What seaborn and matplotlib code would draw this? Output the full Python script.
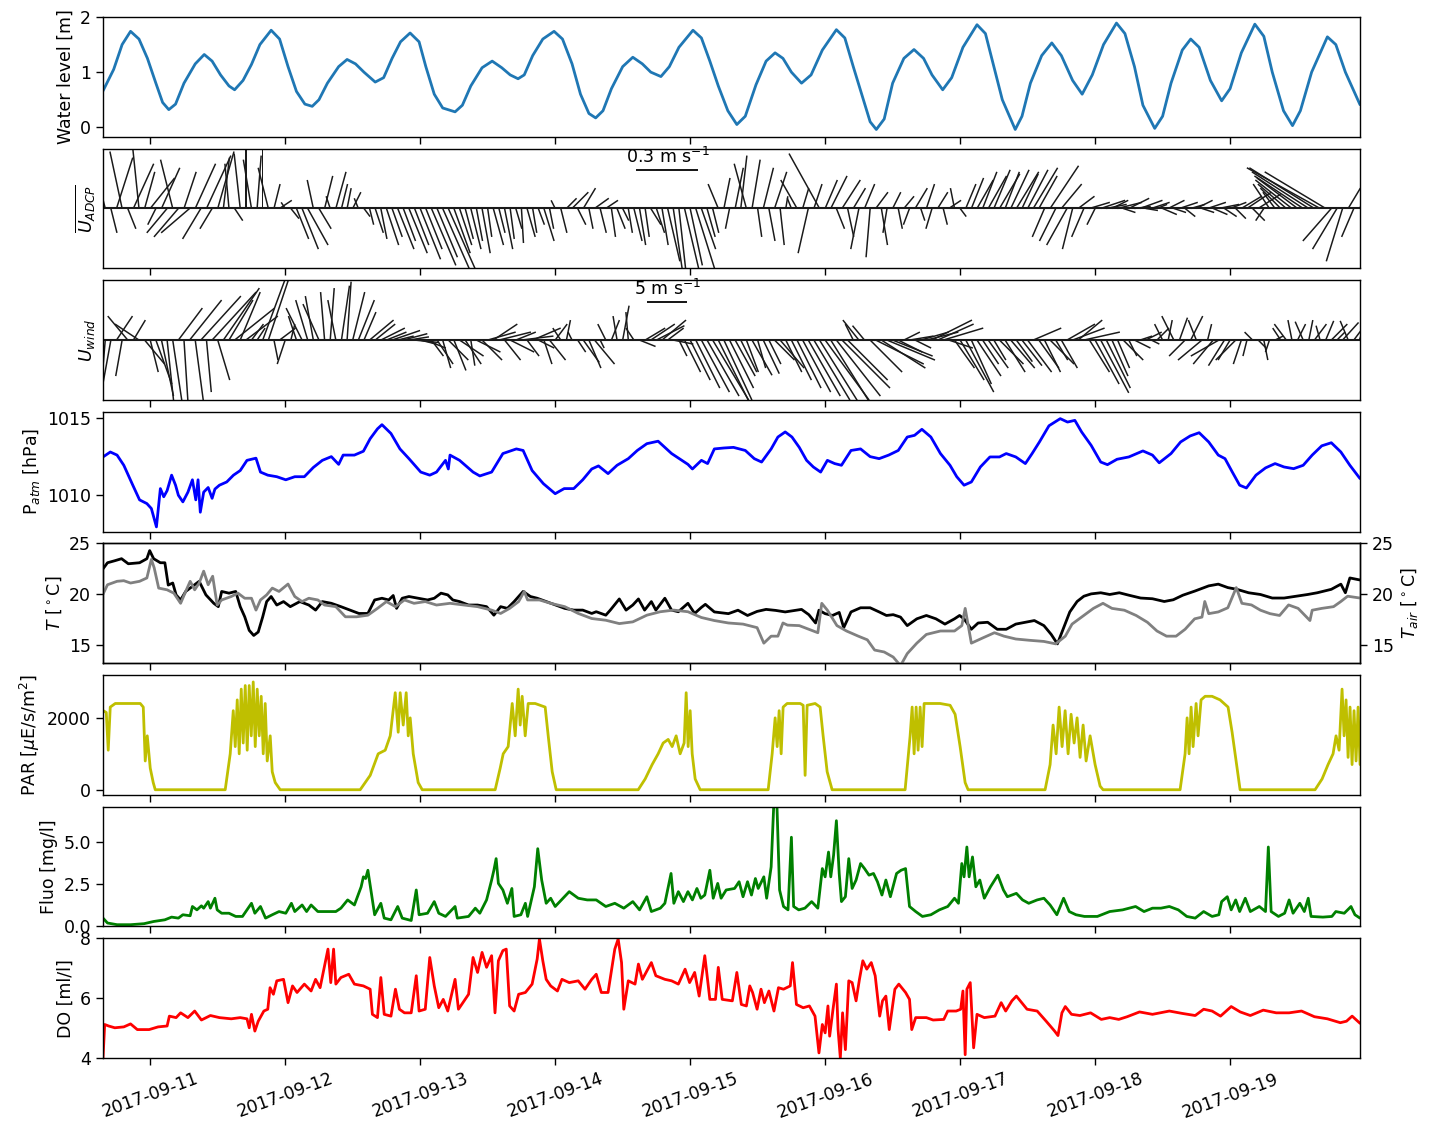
import numpy as np
import pandas as pd
import matplotlib
matplotlib.use("Agg")
import matplotlib.pyplot as plt
import matplotlib.dates as mdates
import seaborn as sns
from datetime import datetime

# ---------------------------------------------------------------------------
# Time base: all sample times are hours counted from 2017-09-10 00:00
# ---------------------------------------------------------------------------
T0 = mdates.date2num(datetime(2017, 9, 10))


def to_dnum(hours):
    return T0 + np.asarray(hours, dtype=float) / 24.0


# ---------------------------------------------------------------------------
# Water level [m]
# ---------------------------------------------------------------------------
wl_hours = [15.6, 17.5, 19.0, 20.5, 22.0, 23.5, 25.0, 26.2, 27.3, 28.5,
            30.0, 32.0, 33.6, 35.0, 36.5, 38.0, 39.0, 40.5, 42.0, 43.5,
            45.5, 47.0, 48.5, 50.0, 51.5, 52.8, 54.0, 55.5, 57.5, 59.0,
            60.5, 62.0, 64.0, 65.5, 67.0, 68.5, 70.2, 71.8, 73.0, 74.5,
            76.0, 78.2, 79.5, 81.0, 83.0, 84.8, 86.5, 88.0, 89.4, 90.5,
            92.0, 93.8, 95.8, 97.3, 99.0, 100.5, 102.0, 103.2, 104.5, 106.0,
            108.0, 109.8, 111.5, 113.0, 114.8, 116.3, 118.0, 120.5, 122.0, 123.5,
            125.0, 126.7, 128.3, 129.8, 131.7, 133.5, 135.1, 136.5, 138.0, 139.8,
            141.5, 143.5, 146.0, 147.5, 149.0, 150.5, 152.0, 153.1, 154.5, 156.0,
            158.0, 159.8, 161.5, 163.0, 164.9, 166.5, 168.5, 171.0, 172.5, 174.0,
            175.5, 177.8, 179.0, 180.5, 182.5, 184.3, 186.0, 188.0, 189.7, 191.5,
            193.5, 195.8, 197.3, 199.0, 200.5, 202.6, 204.0, 205.5, 207.5, 209.0,
            210.5, 212.5, 214.5, 216.0, 218.0, 220.4, 222.0, 223.5, 225.5, 227.1,
            228.5, 230.5, 233.3, 234.8, 236.5, 239.1]
water_level = [0.66, 1.05, 1.50, 1.74, 1.60, 1.25, 0.80, 0.45, 0.32, 0.42,
               0.80, 1.15, 1.32, 1.20, 0.95, 0.75, 0.68, 0.85, 1.14, 1.50,
               1.76, 1.60, 1.10, 0.65, 0.42, 0.38, 0.50, 0.80, 1.10, 1.23,
               1.15, 1.00, 0.82, 0.90, 1.25, 1.55, 1.71, 1.55, 1.10, 0.60,
               0.35, 0.28, 0.40, 0.75, 1.08, 1.20, 1.08, 0.95, 0.88, 0.95,
               1.30, 1.60, 1.74, 1.60, 1.15, 0.60, 0.25, 0.17, 0.30, 0.70,
               1.10, 1.27, 1.15, 1.00, 0.92, 1.10, 1.45, 1.76, 1.62, 1.20,
               0.75, 0.30, 0.05, 0.20, 0.77, 1.20, 1.35, 1.25, 1.00, 0.80,
               0.95, 1.40, 1.77, 1.62, 1.10, 0.60, 0.10, -0.04, 0.15, 0.80,
               1.25, 1.41, 1.25, 0.95, 0.68, 0.90, 1.45, 1.86, 1.70, 1.10,
               0.50, -0.04, 0.20, 0.80, 1.30, 1.53, 1.30, 0.85, 0.60, 0.95,
               1.50, 1.89, 1.70, 1.10, 0.40, -0.02, 0.20, 0.80, 1.40, 1.60,
               1.45, 0.85, 0.48, 0.70, 1.35, 1.87, 1.65, 1.00, 0.30, 0.03,
               0.30, 1.00, 1.64, 1.50, 1.00, 0.41]

# ---------------------------------------------------------------------------
# Hourly current (ADCP, depth mean) and wind vectors: east (u) / north (v)
# ---------------------------------------------------------------------------
stick_hours = np.arange(16, 240)  # hourly samples, 16 h ... 239 h

adcp_u = [-0.05, 0.03, 0.08, -0.06, 0.04, 0.10, -0.03, 0.05,
          0.12, -0.04, 0.09, -0.10, -0.06, -0.12, 0.06, -0.14,
          0.10, -0.09, 0.12, -0.06, 0.08, 0.03, -0.02, 0.04,
          -0.03, 0.00, -0.04, 0.02, 0.00, -0.05, 0.03, 0.06,
          -0.02, 0.04, 0.06, 0.08, 0.10, -0.03, 0.06, 0.04,
          -0.02, 0.05, 0.03, 0.02, 0.04, -0.02, 0.03, 0.02,
          0.04, 0.03, 0.06, 0.05, 0.08, 0.06, 0.09, 0.07,
          0.10, 0.08, 0.12, 0.10, 0.15, 0.16, 0.08, 0.06,
          0.04, 0.05, 0.03, 0.04, 0.02, 0.05, 0.03, 0.04,
          0.02, 0.03, 0.01, 0.04, 0.02, 0.03, 0.05, 0.02,
          -0.02, 0.03, 0.05, 0.08, 0.04, 0.06, 0.02, 0.07,
          0.03, 0.06, 0.02, 0.04, 0.03, 0.02, 0.04, 0.03,
          0.02, 0.05, 0.04, 0.03, 0.06, 0.05, 0.04, 0.08,
          0.06, 0.10, 0.07, 0.04, 0.03, -0.05, 0.03, -0.02,
          0.04, 0.03, -0.06, 0.04, 0.02, 0.05, 0.03, 0.06,
          0.02, 0.01, -0.02, -0.08, 0.03, -0.05, 0.04, -0.15,
          0.06, 0.08, 0.04, 0.09, 0.03, 0.06, -0.04, 0.05,
          -0.02, 0.06, 0.03, -0.02, 0.04, 0.02, 0.05, -0.03,
          0.06, 0.02, 0.04, -0.03, 0.05, 0.02, 0.06, -0.02,
          0.03, 0.05, 0.06, 0.08, 0.07, 0.09, 0.08, 0.10,
          0.07, 0.09, 0.11, 0.08, 0.10, 0.12, 0.09, -0.06,
          0.14, -0.08, 0.10, -0.10, -0.05, 0.08, -0.06, 0.10,
          -0.04, 0.12, 0.10, 0.08, 0.12, 0.06, 0.10, 0.08,
          0.11, 0.06, 0.09, 0.05, 0.07, 0.08, 0.06, 0.09,
          0.05, 0.07, 0.08, 0.06, 0.09, 0.07, 0.10, 0.06,
          0.08, 0.05, 0.10, 0.12, 0.06, 0.11, -0.04, -0.08,
          -0.06, -0.10, -0.14, -0.18, -0.20, -0.24, -0.28, -0.32,
          -0.36, -0.30, -0.14, -0.12, -0.08, 0.06, -0.06, 0.08]
adcp_v = [0.20, -0.12, 0.25, 0.28, -0.10, 0.22, 0.29, 0.18,
          0.15, -0.08, 0.20, -0.12, 0.24, -0.14, 0.18, -0.12,
          0.22, -0.15, 0.26, -0.10, 0.28, 0.25, 0.22, -0.06,
          0.27, 0.29, 0.24, 0.26, 0.30, 0.20, 0.12, 0.04,
          0.03, -0.05, -0.15, -0.20, -0.18, 0.14, -0.10, 0.16,
          0.06, 0.18, 0.12, 0.10, 0.08, 0.05, -0.04, -0.08,
          -0.12, -0.15, -0.18, -0.14, -0.20, -0.16, -0.22, -0.18,
          -0.25, -0.20, -0.28, -0.24, -0.34, -0.36, -0.22, -0.18,
          -0.15, -0.20, -0.16, -0.22, -0.14, -0.18, -0.12, -0.20,
          -0.15, -0.10, -0.17, -0.14, -0.12, -0.08, -0.16, -0.10,
          0.04, -0.12, 0.05, 0.08, -0.08, 0.10, -0.10, 0.05,
          -0.12, 0.04, -0.14, -0.10, -0.06, -0.12, -0.16, -0.18,
          -0.14, -0.08, -0.12, -0.18, -0.26, -0.34, -0.36, -0.34,
          -0.28, -0.32, -0.20, -0.14, -0.12, 0.12, 0.15, -0.10,
          0.20, 0.26, 0.22, 0.24, -0.14, 0.20, -0.16, 0.18,
          -0.18, 0.06, 0.05, 0.14, 0.10, -0.22, 0.12, 0.27,
          0.14, 0.16, -0.10, 0.14, -0.14, 0.10, -0.20, 0.12,
          -0.24, 0.08, -0.18, -0.12, 0.08, -0.10, 0.06, -0.08,
          0.10, -0.06, 0.12, -0.10, 0.08, -0.08, 0.04, 0.10,
          -0.04, 0.12, 0.15, 0.14, 0.18, 0.16, 0.19, 0.17,
          0.18, 0.19, 0.18, 0.17, 0.19, 0.20, 0.16, -0.14,
          0.21, -0.16, 0.12, -0.18, -0.20, 0.06, -0.14, 0.03,
          -0.08, 0.04, 0.02, 0.04, 0.03, -0.02, 0.05, 0.01,
          0.04, -0.01, 0.03, 0.02, -0.03, 0.04, -0.02, 0.03,
          -0.04, 0.02, 0.04, -0.02, 0.03, -0.03, 0.02, -0.04,
          0.03, -0.05, 0.06, 0.08, -0.06, 0.07, -0.06, 0.12,
          0.08, 0.10, 0.12, 0.14, 0.15, 0.16, 0.18, 0.20,
          0.20, 0.18, -0.16, -0.20, -0.26, 0.10, -0.14, 0.12]

wind_u = [-0.5, -1.0, 2.0, -0.8, -2.5, 1.5, -3.0, 2.5,
          1.0, 2.0, 1.5, 0.8, 1.2, 3.0, 0.5, 4.0,
          1.0, 5.0, 0.6, 5.5, 1.5, 4.5, 3.0, 5.0,
          2.5, 4.0, 1.5, 1.0, 3.5, 3.0, 0.5, 2.0,
          -1.0, 0.5, -1.0, -2.0, -1.5, -1.0, -2.0, -0.5,
          0.5, -1.0, 1.0, 0.5, 1.5, 2.0, 1.5, 3.0,
          2.5, 3.0, 2.5, 3.5, 2.0, 3.0, 2.5, 3.0,
          2.0, 2.5, 1.5, 2.0, 1.0, 2.5, 1.5, 3.0,
          2.0, 0.5, 3.0, 2.5, 3.5, 3.0, 4.0, 2.0,
          3.0, 2.5, 4.0, 1.5, 3.5, 2.0, 1.0, 2.0,
          1.5, -1.0, 0.5, -0.5, 1.0, 2.0, 1.5, 2.5,
          0.5, -1.0, 1.0, -0.5, 0.8, -0.3, -1.0, 2.0,
          2.5, 3.0, 3.5, 3.0, 2.0, 2.5, 1.0, 2.0,
          2.5, 3.0, 3.5, 4.0, 4.5, 4.0, 3.5, 3.0,
          2.5, 2.0, 1.5, 2.5, 1.0, 2.0, 1.5, 2.5,
          3.0, 2.0, 2.5, 3.0, 3.5, 4.0, 4.5, 5.0,
          5.5, 5.0, 5.5, 6.0, 5.0, -1.0, -2.0, -1.5,
          4.0, 6.0, 5.5, 6.0, 5.0, 3.0, 2.0, 3.0,
          2.0, 3.5, 4.0, 5.0, 4.5, 5.0, 3.0, 2.5,
          3.0, 3.5, 2.5, 3.0, 2.0, 2.5, 1.5, 3.0,
          2.5, 3.0, 2.0, 2.5, 3.0, 3.5, 2.5, 2.0,
          3.0, 1.5, 2.0, 3.5, 4.0, 3.0, 4.5, 2.5,
          3.0, 3.5, 3.0, 2.0, 1.5, 2.5, 1.0, 2.0,
          1.5, 2.0, 1.0, 1.5, -1.0, 0.5, -1.5, 1.0,
          -2.0, 1.5, -1.0, -3.0, 0.5, -2.5, -3.5, -2.0,
          -1.5, -2.5, -1.0, -0.5, -1.0, 1.0, 0.5, -0.5,
          1.0, -1.0, -1.5, -0.5, 1.0, -1.0, 0.5, 1.5,
          -0.5, 1.0, 2.0, 1.0, 2.0, -1.0, 1.5, 0.5]
wind_v = [-6.0, -5.5, 3.0, -4.5, 3.0, 2.5, 2.0, -3.0,
          -4.0, -5.5, -7.0, -7.5, -8.0, 4.0, -7.8, 5.0,
          -7.5, 5.5, -6.5, 6.0, -5.0, 6.5, 5.0, 4.0,
          6.0, 3.0, 2.0, 1.5, 9.5, 9.0, -2.5, 1.5,
          -3.0, 2.0, 3.0, 4.0, 5.0, 5.5, 4.5, 6.0,
          6.5, 5.0, 6.8, 7.3, 6.0, 5.0, 3.5, 2.5,
          2.0, 1.5, 1.0, 1.2, 0.5, 0.8, 0.4, -0.3,
          -0.5, -1.0, -2.0, -3.0, -3.5, -2.5, -3.8, -2.0,
          -3.0, -3.2, -1.5, -2.5, 1.0, 2.0, 1.0, -2.5,
          -1.5, 1.0, 0.5, -2.0, 1.5, -1.0, -3.0, -2.5,
          2.0, 1.5, 2.5, 1.0, -1.5, -2.8, -3.5, -3.0,
          -1.0, 2.0, 2.5, 3.0, 4.3, 3.5, 1.5, -0.8,
          1.5, 2.0, 1.8, 2.5, 1.5, -0.5, -2.0, -4.0,
          -5.0, -6.0, -6.5, -7.0, -7.5, -8.0, -7.5, -6.0,
          -4.5, -4.0, -4.0, -4.4, -3.5, -4.2, -3.0, -2.5,
          -3.5, -4.0, -5.0, -6.0, -6.5, -7.0, -7.5, -8.0,
          -7.5, -8.0, -7.0, -6.0, -5.0, 2.0, 2.5, 1.8,
          -4.0, -3.0, -3.5, -2.5, -2.0, -1.5, 1.0, 0.5,
          -1.0, 1.0, 1.0, 2.5, 2.0, 1.5, -1.0, -3.5,
          -5.0, -6.5, -5.5, -4.5, -3.0, -3.5, -2.5, -3.0,
          -4.0, -3.5, -2.7, -3.2, -4.0, 1.5, -3.5, -4.0,
          -3.0, -2.5, -3.5, 2.0, 1.5, 2.5, 1.0, -4.0,
          -5.5, -6.6, -6.0, -4.5, -3.5, -2.5, -2.0, -1.0,
          0.5, 1.0, -0.5, 1.5, 2.0, 2.5, 3.0, 2.8,
          -2.0, 3.0, 2.5, -2.5, 2.0, -3.0, -2.0, -3.2,
          -2.5, -2.5, -3.0, -2.0, 1.0, -1.0, -2.5, -1.5,
          0.5, 1.5, 2.0, 2.5, 2.0, 2.3, 2.5, 2.0,
          1.8, 2.4, 2.0, 1.0, 2.2, 2.4, 2.0, 1.5]

# ---------------------------------------------------------------------------
# Atmospheric pressure [hPa]
# ---------------------------------------------------------------------------
patm_hours = [15.6, 16.9, 18.1, 19.3, 20.9, 22.1, 23.4, 24.2, 25.1, 25.8,
              26.4, 27.0, 27.8, 28.5, 29.0, 29.8, 30.7, 31.5, 32.1, 32.5,
              32.9, 33.5, 34.3, 35.0, 35.5, 36.3, 37.6, 38.8, 40.0, 41.2,
              42.8, 43.6, 44.9, 46.5, 48.1, 49.7, 51.4, 53.0, 54.6, 56.2,
              57.5, 58.3, 60.3, 61.9, 63.1, 64.4, 65.2, 66.8, 68.4, 70.0,
              72.1, 73.7, 74.9, 76.5, 77.0, 77.3, 79.0, 81.4, 82.6, 84.7,
              86.7, 89.1, 90.3, 91.9, 93.9, 96.0, 97.6, 99.3, 100.9, 102.5,
              103.7, 105.4, 107.0, 109.0, 110.6, 112.3, 114.3, 116.7, 119.6, 120.4,
              122.0, 123.1, 124.3, 126.0, 127.7, 129.8, 131.4, 132.7, 134.4, 135.6,
              136.9, 138.1, 139.4, 140.7, 141.9, 143.2, 144.4, 145.7, 146.9, 148.6,
              150.3, 152.0, 153.6, 155.3, 157.0, 158.6, 159.9, 161.2, 162.8, 164.5,
              166.2, 167.4, 168.7, 170.0, 171.6, 173.3, 175.0, 176.2, 177.9, 179.6,
              180.8, 182.1, 183.8, 185.8, 187.1, 188.4, 189.6, 191.3, 193.0, 194.2,
              195.9, 198.0, 200.5, 202.2, 203.4, 205.5, 207.2, 208.9, 210.5, 212.2,
              213.9, 215.1, 216.4, 217.7, 218.9, 220.6, 222.3, 224.0, 225.6, 227.3,
              229.0, 230.6, 232.3, 234.0, 235.7, 237.3, 239.1]
patm = [1012.48, 1012.80, 1012.60, 1011.94, 1010.65, 1009.70, 1009.46, 1009.14, 1007.95, 1010.43,
        1009.90, 1010.30, 1011.30, 1010.65, 1010.00, 1009.57, 1010.20, 1011.00, 1009.70, 1011.00,
        1008.90, 1010.20, 1010.50, 1009.80, 1010.40, 1010.65, 1010.86, 1011.30, 1011.60, 1012.26,
        1012.40, 1011.50, 1011.30, 1011.20, 1011.00, 1011.20, 1011.20, 1011.80, 1012.26, 1012.50,
        1012.00, 1012.60, 1012.60, 1012.85, 1013.66, 1014.30, 1014.57, 1014.00, 1013.00, 1012.37,
        1011.50, 1011.30, 1011.50, 1012.26, 1011.70, 1012.60, 1012.26, 1011.50, 1011.25, 1011.50,
        1012.70, 1013.00, 1012.90, 1011.60, 1010.75, 1010.10, 1010.43, 1010.43, 1011.00, 1011.70,
        1011.90, 1011.40, 1011.94, 1012.37, 1012.90, 1013.34, 1013.50, 1012.70, 1012.00, 1011.70,
        1012.26, 1012.05, 1013.00, 1013.06, 1013.10, 1012.90, 1012.37, 1012.15, 1013.00, 1013.77,
        1014.10, 1013.77, 1013.10, 1012.26, 1011.83, 1011.50, 1012.26, 1012.05, 1011.94, 1012.90,
        1013.00, 1012.50, 1012.37, 1012.60, 1012.90, 1013.77, 1013.88, 1014.27, 1013.77, 1012.70,
        1011.94, 1011.20, 1010.65, 1010.86, 1011.83, 1012.48, 1012.48, 1012.70, 1012.48, 1012.05,
        1012.70, 1013.45, 1014.50, 1014.96, 1014.74, 1014.85, 1014.10, 1013.23, 1012.15, 1011.98,
        1012.33, 1012.48, 1012.87, 1012.60, 1012.10, 1012.70, 1013.45, 1013.84, 1014.05, 1013.45,
        1012.60, 1012.37, 1011.50, 1010.65, 1010.47, 1011.30, 1011.77, 1012.05, 1011.83, 1011.72,
        1011.94, 1012.60, 1013.20, 1013.40, 1012.80, 1011.94, 1011.08]

# ---------------------------------------------------------------------------
# Water temperature (left axis) and air temperature (right axis) [deg C]
# ---------------------------------------------------------------------------
tw_hours = [15.6, 16.4, 17.7, 18.9, 20.1, 22.1, 23.4, 23.9, 24.6, 25.8,
            26.6, 27.2, 28.0, 28.6, 29.4, 30.3, 31.5, 32.7, 33.9, 35.3,
            36.1, 36.7, 38.0, 39.2, 40.0, 40.8, 41.6, 42.4, 43.2, 44.0,
            44.7, 45.5, 46.5, 47.7, 48.9, 50.6, 52.2, 53.4, 54.6, 56.2,
            57.9, 59.5, 61.1, 62.7, 63.9, 65.2, 66.4, 67.2, 67.8, 68.8,
            70.0, 71.7, 73.3, 74.5, 75.7, 76.9, 77.8, 79.0, 80.6, 82.2,
            83.8, 85.1, 86.3, 87.5, 88.7, 90.3, 91.6, 92.8, 94.4, 96.0,
            97.7, 99.3, 100.9, 102.5, 103.3, 105.0, 105.8, 107.4, 108.6, 109.8,
            110.8, 111.9, 113.1, 113.9, 115.5, 116.7, 117.9, 119.6, 120.8, 122.0,
            122.7, 124.3, 126.8, 128.5, 130.2, 131.9, 133.5, 135.2, 136.9, 138.6,
            139.8, 141.1, 142.3, 142.9, 144.0, 145.3, 146.5, 147.3, 148.6, 150.3,
            152.0, 153.6, 154.9, 156.1, 157.4, 158.6, 160.3, 162.0, 163.7, 165.3,
            167.0, 167.9, 168.7, 170.0, 171.2, 172.9, 174.6, 176.2, 177.9, 179.6,
            181.2, 182.9, 184.2, 185.3, 186.3, 187.5, 188.8, 190.0, 191.3, 193.0,
            194.6, 196.3, 198.0, 200.1, 202.2, 204.3, 205.9, 207.6, 209.7, 212.2,
            213.9, 215.6, 217.2, 219.3, 221.4, 223.5, 225.6, 227.7, 229.8, 231.5,
            234.0, 235.7, 236.5, 237.3, 239.1]
t_water = [22.50, 23.10, 23.30, 23.50, 23.00, 23.10, 23.50, 24.30, 23.50, 23.10,
           23.10, 20.90, 21.10, 19.93, 19.43, 20.27, 20.77, 21.27, 19.93, 19.10,
           18.77, 20.27, 20.10, 20.27, 18.77, 17.77, 16.43, 15.93, 16.27, 17.77,
           19.27, 19.77, 18.93, 19.27, 18.77, 19.27, 18.93, 18.43, 19.27, 19.10,
           18.77, 18.43, 18.10, 18.10, 19.43, 19.60, 19.43, 19.87, 18.60, 19.60,
           19.77, 19.60, 19.43, 19.60, 20.10, 19.93, 19.43, 19.27, 18.93, 18.93,
           18.77, 17.93, 18.77, 18.60, 19.27, 20.27, 19.77, 19.60, 19.27, 18.93,
           18.60, 18.43, 18.43, 18.10, 18.27, 17.93, 18.43, 19.53, 18.43, 18.93,
           19.53, 18.43, 19.27, 18.43, 19.60, 18.43, 18.27, 19.10, 18.10, 18.70,
           19.00, 18.25, 18.08, 18.42, 17.90, 18.30, 18.50, 18.40, 18.25, 18.40,
           18.50, 17.98, 17.16, 18.42, 18.08, 17.90, 18.20, 16.70, 18.25, 18.66,
           18.66, 18.25, 17.90, 17.98, 17.74, 16.90, 17.57, 17.90, 17.57, 17.05,
           17.57, 17.90, 17.57, 16.54, 17.16, 17.23, 16.54, 16.54, 17.05, 17.23,
           17.40, 16.90, 16.03, 15.10, 16.54, 18.25, 19.28, 19.80, 20.03, 20.14,
           19.97, 20.14, 19.90, 19.62, 19.55, 19.28, 19.45, 19.90, 20.30, 20.82,
           20.99, 20.65, 20.48, 20.14, 19.97, 19.62, 19.62, 19.80, 19.97, 20.14,
           20.48, 20.99, 20.14, 21.60, 21.40]

ta_hours = [15.6, 16.4, 18.1, 19.3, 20.5, 22.1, 23.4, 24.2, 24.7, 25.5,
            27.0, 28.2, 29.4, 30.3, 31.1, 31.9, 32.7, 33.5, 34.3, 35.1,
            35.9, 36.7, 38.4, 39.6, 40.8, 42.0, 42.8, 43.6, 44.7, 45.7,
            46.9, 48.5, 49.7, 51.0, 52.2, 53.8, 55.0, 57.0, 58.7, 60.7,
            62.7, 64.4, 66.0, 67.6, 69.2, 70.9, 72.9, 74.9, 77.3, 79.8,
            82.2, 84.7, 86.3, 87.9, 89.5, 90.5, 91.1, 93.2, 95.2, 97.7,
            100.1, 102.5, 105.0, 107.4, 109.8, 112.3, 114.7, 117.1, 119.6, 122.0,
            124.3, 126.8, 129.4, 131.9, 133.1, 134.4, 135.6, 136.5, 137.3, 139.4,
            141.9, 142.7, 143.4, 144.4, 146.1, 147.8, 149.9, 151.5, 152.8, 154.5,
            156.1, 157.4, 158.6, 160.3, 162.0, 164.5, 167.0, 168.3, 168.9, 170.0,
            172.0, 174.1, 175.8, 177.9, 180.4, 182.9, 185.0, 186.7, 187.9, 189.6,
            191.7, 193.4, 195.0, 197.2, 199.3, 201.3, 203.0, 204.7, 206.4, 208.0,
            209.7, 211.0, 211.5, 212.2, 213.9, 215.6, 217.1, 218.1, 219.8, 221.4,
            223.1, 224.8, 226.4, 228.1, 230.2, 230.6, 232.3, 234.4, 235.7, 236.9,
            239.1]
t_air = [20.00, 20.93, 21.27, 21.33, 21.10, 21.27, 21.60, 23.43, 22.60, 20.60,
         20.43, 20.10, 19.10, 20.27, 21.27, 20.43, 21.10, 22.27, 20.93, 21.77,
         18.93, 19.43, 19.77, 20.10, 19.60, 19.60, 18.43, 19.43, 19.93, 20.60,
         20.27, 21.00, 19.77, 19.27, 19.60, 19.43, 18.93, 18.77, 17.77, 17.77,
         17.93, 18.60, 19.27, 18.77, 19.43, 19.10, 19.27, 18.93, 19.10, 18.93,
         18.77, 18.43, 18.10, 18.60, 19.27, 20.27, 19.43, 19.43, 19.10, 18.77,
         18.10, 17.60, 17.43, 17.10, 17.27, 17.93, 18.27, 18.43, 18.27, 17.70,
         17.40, 17.16, 17.05, 16.70, 15.17, 15.86, 15.86, 17.16, 16.95, 16.90,
         16.37, 16.20, 19.10, 18.42, 16.90, 16.37, 15.86, 15.50, 14.49, 14.30,
         13.80, 12.95, 14.14, 15.17, 16.03, 16.37, 16.37, 16.90, 18.60, 15.17,
         15.68, 16.20, 15.86, 15.58, 15.45, 15.34, 15.10, 15.86, 17.05, 17.74,
         18.60, 19.10, 18.60, 18.42, 17.90, 17.23, 16.37, 15.86, 15.86, 16.54,
         17.57, 17.74, 19.28, 18.08, 18.25, 18.66, 20.65, 19.10, 18.94, 18.42,
         18.08, 17.90, 18.94, 18.60, 17.40, 18.42, 18.60, 18.77, 19.28, 19.80,
         19.62]

# ---------------------------------------------------------------------------
# Photosynthetically active radiation [uE/s/m2]
# ---------------------------------------------------------------------------
par_hours = [15.64, 16.18, 16.53, 16.89, 17.78, 22.22, 22.76, 23.11, 23.47, 24.0,
             24.53, 24.89, 37.33, 38.22, 38.76, 39.11, 39.47, 39.82, 40.18, 40.53,
             40.89, 41.24, 41.6, 41.96, 42.31, 42.67, 43.02, 43.38, 43.73, 44.09,
             44.44, 44.8, 45.33, 45.69, 46.22, 47.11, 61.33, 63.11, 64.53, 65.78,
             66.67, 67.56, 68.09, 68.44, 68.98, 69.51, 69.87, 70.22, 70.76, 71.64,
             72.36, 85.33, 86.22, 86.76, 87.64, 88.36, 88.89, 89.42, 89.78, 90.13,
             90.67, 91.2, 92.44, 93.33, 94.22, 94.76, 95.47, 96.18, 110.76, 112.0,
             113.24, 114.31, 115.2, 116.09, 116.8, 117.51, 118.22, 118.93, 119.29, 119.64,
             120.0, 120.36, 120.89, 121.78, 133.87, 134.58, 135.11, 135.47, 135.82, 136.18,
             136.53, 137.24, 139.56, 140.09, 140.44, 140.8, 142.22, 143.11, 143.64, 144.36,
             145.24, 158.22, 159.11, 159.47, 159.82, 160.18, 160.53, 160.89, 161.24, 161.6,
             162.67, 164.44, 166.22, 167.11, 168.0, 168.89, 169.42, 183.11, 184.0, 184.53,
             185.07, 185.6, 186.13, 186.67, 187.2, 187.73, 188.27, 188.8, 189.33, 189.87,
             190.4, 191.11, 192.0, 192.89, 193.42, 207.11, 208.0, 208.36, 208.71, 209.07,
             209.42, 209.96, 210.31, 210.84, 211.56, 212.8, 214.22, 215.64, 216.36, 217.07,
             217.78, 231.11, 232.36, 233.42, 234.31, 234.84, 235.38, 235.91, 236.27, 236.62,
             236.98, 237.33, 237.69, 238.04, 238.4, 238.76, 239.11]
par = [2200, 2150, 1100, 2300, 2400, 2400, 2300, 800, 1500, 600,
       200, 0, 0, 1000, 2200, 1200, 2500, 1000, 2800, 1300,
       2900, 1100, 2900, 1500, 3000, 1200, 2800, 1500, 2600, 1000,
       2400, 800, 1500, 500, 200, 0, 0, 400, 1000, 1100,
       1500, 2700, 1600, 2700, 1800, 2700, 1500, 2000, 1000, 200,
       0, 0, 600, 1000, 1200, 2400, 1500, 2800, 1800, 2600,
       1500, 2400, 2400, 2350, 2300, 1500, 500, 0, 0, 300,
       700, 1000, 1300, 1400, 1200, 1500, 1000, 1300, 2700, 1200,
       2200, 1000, 300, 0, 0, 1000, 2000, 1200, 2200, 1000,
       2300, 2400, 2400, 2350, 400, 2350, 2400, 2300, 1500, 500,
       0, 0, 1500, 2300, 1000, 2300, 1100, 2300, 1200, 2400,
       2400, 2400, 2350, 2100, 1200, 200, 0, 0, 700, 1800,
       1000, 2300, 1200, 2200, 1000, 2100, 1300, 2000, 900, 1800,
       800, 1500, 700, 100, 0, 0, 1000, 2000, 1000, 2300,
       1200, 2400, 1500, 2500, 2600, 2600, 2500, 2300, 1600, 800,
       0, 0, 300, 700, 1000, 1500, 1100, 2800, 1500, 2500,
       900, 2300, 700, 2200, 800, 2300, 700]

# ---------------------------------------------------------------------------
# Chlorophyll fluorescence [mg/l]
# ---------------------------------------------------------------------------
fluo_hours = [15.6, 16.4, 18.1, 20.5, 22.9, 24.6, 26.6, 27.8, 29.0, 29.8,
              31.1, 31.5, 32.3, 33.1, 33.5, 34.3, 34.7, 35.5, 35.9, 36.7,
              38.0, 39.2, 40.4, 41.2, 42.0, 42.6, 43.6, 44.5, 45.7, 46.9,
              48.1, 49.1, 49.7, 51.0, 51.8, 52.6, 53.8, 55.4, 57.0, 57.9,
              59.1, 60.3, 61.5, 61.9, 62.3, 62.7, 63.1, 63.9, 65.0, 65.6,
              66.8, 68.0, 68.8, 70.4, 71.3, 71.8, 73.3, 74.5, 75.3, 76.5,
              78.2, 78.6, 80.6, 81.8, 82.6, 83.8, 84.7, 85.1, 85.5, 85.9,
              86.7, 87.5, 88.3, 88.7, 89.9, 90.7, 91.1, 92.3, 92.9, 93.6,
              94.4, 95.2, 96.0, 98.5, 100.1, 101.7, 103.3, 105.0, 106.6, 108.2,
              109.8, 111.0, 112.3, 113.1, 114.7, 115.5, 116.6, 117.1, 117.9, 118.8,
              119.6, 120.4, 121.2, 121.9, 122.6, 123.5, 124.1, 124.9, 125.5, 126.4,
              127.9, 128.7, 129.4, 130.2, 130.9, 131.6, 132.1, 133.1, 133.6, 134.4,
              134.9, 135.4, 135.9, 136.6, 137.4, 138.0, 138.4, 139.3, 140.4, 141.6,
              142.7, 143.5, 144.0, 144.6, 145.0, 145.5, 146.0, 146.5, 146.9, 147.6,
              148.2, 148.8, 149.5, 150.3, 151.0, 151.8, 152.6, 153.3, 154.1, 154.8,
              155.6, 156.7, 157.5, 158.3, 159.0, 160.1, 161.3, 162.8, 164.3, 165.8,
              167.0, 167.7, 168.3, 168.7, 169.2, 169.6, 170.2, 170.8, 171.5, 172.3,
              173.4, 174.7, 175.7, 176.4, 178.0, 179.1, 180.2, 181.7, 182.9, 184.0,
              185.2, 186.4, 187.4, 188.6, 190.1, 192.4, 194.6, 196.9, 199.2, 200.7,
              202.2, 203.7, 205.2, 206.8, 208.3, 209.8, 211.3, 212.8, 214.0, 214.5,
              215.5, 216.2, 217.0, 217.7, 218.7, 219.6, 221.2, 222.3, 222.8, 223.3,
              224.6, 225.7, 226.5, 227.2, 228.4, 229.2, 229.9, 230.4, 232.5, 234.1,
              234.8, 236.3, 237.5, 238.2, 239.1]
fluo = [0.49, 0.20, 0.10, 0.10, 0.16, 0.29, 0.39, 0.55, 0.49, 0.69,
        0.63, 1.18, 0.98, 1.22, 1.08, 1.47, 1.08, 1.67, 0.98, 0.78,
        0.78, 0.59, 0.59, 0.98, 1.37, 0.78, 1.18, 0.49, 0.69, 0.88,
        0.78, 1.37, 0.88, 1.27, 0.88, 1.27, 0.88, 0.88, 0.88, 1.08,
        1.57, 1.27, 2.35, 2.94, 2.84, 3.33, 2.45, 0.69, 1.37, 0.49,
        0.39, 1.18, 0.49, 0.35, 2.16, 0.69, 0.78, 1.47, 0.78, 0.59,
        1.18, 0.49, 0.59, 1.08, 0.78, 1.57, 2.75, 3.33, 4.02, 2.55,
        2.16, 1.37, 2.25, 0.59, 0.69, 1.37, 0.59, 2.35, 4.61, 2.75,
        1.37, 1.67, 1.18, 2.06, 1.67, 1.57, 1.57, 1.18, 1.37, 1.08,
        1.47, 0.98, 1.76, 0.88, 1.08, 1.37, 3.14, 1.37, 2.06, 1.47,
        2.06, 1.57, 2.25, 1.67, 1.86, 3.33, 1.67, 2.55, 1.67, 2.16,
        2.25, 2.65, 1.76, 2.65, 1.86, 2.84, 2.25, 2.94, 1.67, 3.53,
        7.50, 7.50, 2.16, 1.18, 0.98, 5.29, 1.18, 0.98, 1.08, 1.47,
        1.08, 3.43, 2.94, 4.41, 2.94, 4.22, 6.27, 3.14, 1.47, 1.76,
        4.02, 2.25, 2.75, 3.73, 3.43, 3.04, 3.14, 2.65, 1.86, 2.75,
        1.76, 3.14, 3.33, 3.43, 1.18, 0.88, 0.59, 0.69, 0.98, 1.18,
        1.67, 1.37, 3.73, 2.94, 4.71, 2.94, 4.12, 2.35, 2.75, 1.67,
        2.35, 3.04, 2.16, 1.76, 1.96, 1.57, 1.37, 1.57, 1.67, 1.27,
        0.69, 1.67, 0.88, 0.69, 0.59, 0.59, 0.88, 0.98, 1.18, 0.88,
        1.08, 1.08, 1.18, 0.98, 0.59, 0.49, 0.88, 0.59, 0.69, 1.47,
        1.76, 0.98, 1.57, 0.88, 1.67, 0.88, 1.18, 0.88, 4.71, 0.88,
        0.59, 0.78, 1.57, 0.78, 1.37, 0.88, 1.67, 0.59, 0.55, 0.59,
        0.88, 0.78, 1.18, 0.69, 0.49]

# ---------------------------------------------------------------------------
# Dissolved oxygen [ml/l]
# ---------------------------------------------------------------------------
do_hours = [15.6, 15.9, 16.6, 17.7, 19.3, 20.5, 21.7, 23.8, 25.4, 27.0,
            27.4, 28.6, 29.4, 30.7, 31.9, 33.1, 34.7, 36.3, 38.4, 40.0,
            41.2, 41.6, 42.0, 42.6, 43.2, 44.2, 44.9, 45.3, 45.9, 46.5,
            47.7, 48.5, 49.3, 50.1, 51.4, 52.6, 53.4, 54.2, 55.0, 55.6,
            56.1, 56.6, 57.0, 57.9, 59.3, 60.3, 61.9, 63.1, 63.5, 64.4,
            65.0, 65.6, 66.8, 67.6, 68.3, 69.2, 70.4, 71.3, 71.8, 72.9,
            73.7, 74.5, 75.3, 76.1, 76.9, 78.2, 78.8, 79.8, 80.6, 81.4,
            82.2, 83.0, 83.8, 84.7, 85.3, 85.9, 86.7, 87.3, 87.9, 88.7,
            89.5, 90.7, 91.9, 92.8, 93.2, 93.8, 94.4, 95.2, 96.4, 97.2,
            98.5, 100.1, 101.3, 102.5, 103.3, 104.2, 105.4, 106.6, 107.2, 107.8,
            108.2, 109.0, 110.2, 110.8, 111.5, 113.1, 113.9, 115.5, 116.7, 117.9,
            119.1, 119.9, 120.8, 121.6, 122.6, 123.5, 124.5, 125.0, 125.7, 127.5,
            128.3, 129.1, 130.0, 130.6, 131.1, 131.9, 132.6, 133.2, 134.0, 134.9,
            135.7, 136.6, 137.8, 138.2, 138.9, 140.1, 141.2, 142.2, 142.9, 143.5,
            144.0, 144.5, 144.8, 145.4, 146.0, 146.3, 146.7, 147.1, 147.6, 148.2,
            148.8, 149.5, 150.1, 150.7, 151.4, 152.2, 152.9, 153.7, 154.2, 154.8,
            155.4, 156.4, 157.1, 158.3, 159.0, 159.4, 160.1, 162.0, 163.2, 165.1,
            165.8, 167.3, 168.1, 168.5, 168.9, 169.2, 169.8, 170.4, 171.0, 172.3,
            174.2, 175.3, 176.1, 177.2, 178.0, 178.7, 179.9, 181.7, 183.3, 184.8,
            185.4, 186.1, 186.7, 187.8, 189.3, 191.2, 193.1, 194.6, 196.2, 197.7,
            199.9, 202.2, 205.2, 207.5, 209.8, 211.3, 212.8, 214.3, 216.2, 217.8,
            219.6, 221.9, 224.2, 226.5, 228.7, 231.0, 233.3, 235.6, 236.7, 237.7,
            239.1]
dissolved_oxygen = [4.00, 5.12, 5.07, 5.01, 5.04, 5.14, 4.95, 4.95, 5.04, 5.07,
                    5.40, 5.35, 5.51, 5.35, 5.57, 5.27, 5.42, 5.35, 5.31, 5.35,
                    5.31, 5.01, 5.46, 4.90, 5.23, 5.57, 5.63, 6.35, 6.13, 6.58,
                    6.63, 5.85, 6.41, 6.19, 6.47, 6.24, 6.63, 6.35, 7.08, 7.64,
                    6.52, 7.64, 6.47, 6.69, 6.80, 6.47, 6.41, 6.30, 5.46, 5.35,
                    6.69, 5.46, 5.40, 6.30, 5.63, 5.51, 5.51, 6.75, 5.57, 5.63,
                    7.36, 6.41, 5.68, 5.96, 5.57, 6.63, 5.63, 5.91, 6.13, 7.36,
                    6.86, 7.53, 7.03, 7.42, 5.51, 7.25, 7.59, 7.64, 5.74, 5.57,
                    6.13, 6.19, 6.47, 7.31, 7.98, 7.25, 6.63, 6.41, 6.24, 6.63,
                    6.52, 6.58, 6.30, 6.63, 6.80, 6.19, 6.19, 7.64, 7.98, 7.19,
                    5.63, 6.58, 6.47, 7.14, 6.63, 7.19, 6.75, 6.63, 6.58, 6.47,
                    6.97, 6.52, 6.86, 6.07, 7.42, 5.96, 5.96, 7.03, 5.96, 5.91,
                    6.86, 5.79, 5.74, 6.41, 6.19, 5.63, 6.30, 5.85, 6.24, 5.57,
                    6.35, 6.30, 6.41, 7.19, 5.79, 5.68, 5.74, 5.40, 4.17, 5.12,
                    4.84, 5.74, 4.73, 5.63, 6.47, 4.95, 4.00, 5.51, 4.28, 6.58,
                    6.52, 5.91, 6.63, 7.25, 6.97, 7.19, 6.75, 5.40, 5.91, 6.07,
                    4.95, 6.30, 6.47, 6.19, 5.96, 4.95, 5.35, 5.35, 5.27, 5.29,
                    5.57, 5.57, 5.63, 6.24, 4.11, 6.30, 6.52, 4.34, 5.46, 5.35,
                    5.40, 5.85, 5.57, 5.91, 6.07, 5.91, 5.63, 5.57, 5.23, 4.90,
                    4.75, 5.51, 5.72, 5.46, 5.42, 5.51, 5.29, 5.35, 5.29, 5.38,
                    5.54, 5.46, 5.57, 5.49, 5.42, 5.63, 5.57, 5.40, 5.72, 5.54,
                    5.42, 5.60, 5.51, 5.51, 5.57, 5.38, 5.31, 5.18, 5.23, 5.40,
                    5.16]

# ---------------------------------------------------------------------------
# Styling
# ---------------------------------------------------------------------------
sns.set_theme(style="ticks", rc={
    "font.size": 12.5, "axes.labelsize": 12.5,
    "xtick.labelsize": 12.5, "ytick.labelsize": 12.5,
    "axes.edgecolor": "black", "axes.labelcolor": "black",
    "text.color": "black", "xtick.color": "black", "ytick.color": "black",
    "axes.linewidth": 1.0, "xtick.major.width": 1.0, "ytick.major.width": 1.0,
    "xtick.major.size": 5, "ytick.major.size": 5,
})
plt.rcParams["font.family"] = ["DejaVu Sans"]

fig = plt.figure(figsize=(14.4, 11.28), dpi=100)
gs = fig.add_gridspec(8, 1, left=103 / 1440, right=1360 / 1440,
                      top=1 - 17 / 1128, bottom=1 - 1058 / 1128, hspace=0.1)
ax0 = fig.add_subplot(gs[0])
axes = [ax0] + [fig.add_subplot(gs[i], sharex=ax0) for i in range(1, 8)]


def draw_line(ax, hours, values, color):
    df = pd.DataFrame({"time": to_dnum(hours), "value": values})
    sns.lineplot(data=df, x="time", y="value", ax=ax, color=color,
                 lw=2, sort=False, estimator=None)
    ax.set_xlabel("")


def draw_sticks(ax, u, v, key_speed, key_label, key_inches):
    x = to_dnum(stick_hours)
    ax.axhline(0, color="k", lw=1.5, zorder=1)
    q = ax.quiver(x, np.zeros_like(x), u, v, angles="uv",
                  scale_units="inches", scale=key_speed / key_inches,
                  units="dots", width=1.5, headwidth=0, headlength=0,
                  headaxislength=0, minlength=0, pivot="tail", color="k")
    ax.quiverkey(q, 0.449, 0.82, key_speed, key_label, labelpos="N",
                 coordinates="axes", labelsep=0.03,
                 fontproperties={"size": 12.5})
    ax.set_ylim(-1, 1)
    ax.set_yticks([])


# Water level
ax = axes[0]
draw_line(ax, wl_hours, water_level, "#1f77b4")
ax.set_ylim(-0.17, 2.0)
ax.set_yticks([0, 1, 2])
ax.set_ylabel("Water level [m]")

# Depth-averaged current sticks
ax = axes[1]
draw_sticks(ax, adcp_u, adcp_v, 0.3, r"0.3 m s$^{-1}$", 0.61)
ax.set_ylabel(r"$\overline{U_{ADCP}}$")

# Wind sticks
ax = axes[2]
draw_sticks(ax, wind_u, wind_v, 5.0, r"5 m s$^{-1}$", 0.40)
ax.set_ylabel(r"$U_{wind}$")

# Atmospheric pressure
ax = axes[3]
draw_line(ax, patm_hours, patm, "blue")
ax.set_ylim(1007.65, 1015.4)
ax.set_yticks([1010, 1015])
ax.set_ylabel(r"P$_{atm}$ [hPa]")

# Water and air temperature
ax = axes[4]
draw_line(ax, tw_hours, t_water, "black")
ax.set_ylim(13.2, 25)
ax.set_yticks([15, 20, 25])
ax.set_ylabel(r"$T$ [$^\circ$C]")
ax_air = ax.twinx()
draw_line(ax_air, ta_hours, t_air, "gray")
ax_air.set_ylim(13.2, 25)
ax_air.set_yticks([15, 20, 25])
ax_air.set_ylabel(r"$T_{air}$ [$^\circ$C]")

# PAR
ax = axes[5]
draw_line(ax, par_hours, par, (0.75, 0.75, 0.0))
ax.set_ylim(-140, 3190)
ax.set_yticks([0, 2000])
ax.set_ylabel(r"PAR [$\mu$E/s/m$^2$]")

# Fluorescence
ax = axes[6]
draw_line(ax, fluo_hours, fluo, "green")
ax.set_ylim(0, 7.1)
ax.set_yticks([0.0, 2.5, 5.0])
ax.set_ylabel("Fluo [mg/l]")

# Dissolved oxygen
ax = axes[7]
draw_line(ax, do_hours, dissolved_oxygen, "red")
ax.set_ylim(4, 8)
ax.set_yticks([4, 6, 8])
ax.set_ylabel("DO [ml/l]")

# Shared date axis
ax0.set_xlim(to_dnum(15.6), to_dnum(239.1))
axes[-1].xaxis.set_major_locator(mdates.DayLocator())
axes[-1].xaxis.set_major_formatter(mdates.DateFormatter("%Y-%m-%d"))
for a in axes[:-1]:
    a.tick_params(labelbottom=False)
plt.setp(axes[-1].get_xticklabels(), rotation=20, ha="center")

fig.savefig("out.png", dpi=100)
